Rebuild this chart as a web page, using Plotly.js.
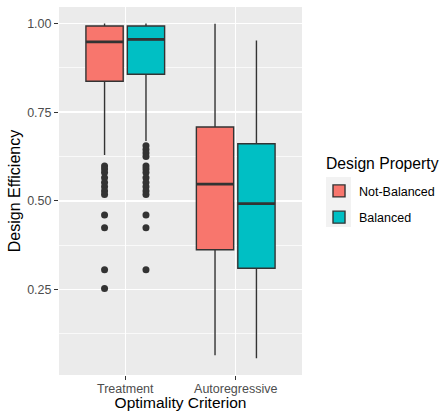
<!DOCTYPE html>
<html>
<head>
<meta charset="utf-8">
<script src="https://cdn.plot.ly/plotly-3.0.1.min.js"></script>
<style>html,body{margin:0;padding:0;background:#fff;}#chart{width:441px;height:411px;}</style>
</head>
<body>
<div id="chart"></div>
<script>
// ---- data ----
const categories = ['Treatment', 'Autoregressive'];
const seriesNames = ['Not-Balanced', 'Balanced'];
const seriesColors = ['#F8766D', '#00BFC4'];
const legendTitle = 'Design Property';

// Not-Balanced stats per category
const nbLower  = [0.629, 0.065];
const nbQ1     = [0.837, 0.362];
const nbMedian = [0.948, 0.547];
const nbQ3     = [0.993, 0.708];
const nbUpper  = [1.000, 0.999];
// Balanced stats per category
const bLower  = [0.669, 0.056];
const bQ1     = [0.857, 0.310];
const bMedian = [0.955, 0.492];
const bQ3     = [0.993, 0.661];
const bUpper  = [1.000, 0.952];

// Outliers (Treatment only)
const nbOutliers = [0.598, 0.590, 0.580, 0.565, 0.552, 0.540, 0.528, 0.518, 0.460, 0.424, 0.306, 0.253];
const bOutliers  = [0.655, 0.645, 0.635, 0.625, 0.598, 0.590, 0.580, 0.565, 0.552, 0.540, 0.528, 0.518, 0.460, 0.424, 0.306];

const yTickVals = [0.25, 0.50, 0.75, 1.00];
const yTickText = ['0.25', '0.50', '0.75', '1.00'];
const yMinorVals = [0.125, 0.375, 0.625, 0.875];

// ---- layout helpers (positions/styles) ----
const catIndex = categories.map((c, i) => i + 1);
const dodge = [-0.1875, 0.1875];
const boxW = 0.3375;
const lineCol = '#333333';

const stats = [
  {lower: nbLower, q1: nbQ1, med: nbMedian, q3: nbQ3, upper: nbUpper, out: nbOutliers},
  {lower: bLower, q1: bQ1, med: bMedian, q3: bQ3, upper: bUpper, out: bOutliers}
];

const traces = [];
stats.forEach((s, k) => {
  const xs = catIndex.map(c => c + dodge[k]);
  traces.push({
    type: 'box',
    name: seriesNames[k],
    legendgroup: 'g' + k,
    x: xs,
    q1: s.q1, median: s.med, q3: s.q3,
    lowerfence: s.lower, upperfence: s.upper,
    width: boxW,
    whiskerwidth: 0,
    fillcolor: seriesColors[k],
    line: {color: lineCol, width: 1.4},
    boxpoints: false,
    hoverinfo: 'skip'
  });
  const mx = [], my = [];
  xs.forEach((x, i) => { mx.push(x - boxW / 2, x + boxW / 2, null); my.push(s.med[i], s.med[i], null); });
  traces.push({
    type: 'scatter', mode: 'lines', x: mx, y: my,
    line: {color: lineCol, width: 2.8}, showlegend: false, hoverinfo: 'skip'
  });
  traces.push({
    type: 'scatter', mode: 'markers',
    x: s.out.map(() => xs[0]), y: s.out,
    marker: {color: lineCol, size: 7},
    showlegend: false, hoverinfo: 'skip'
  });
});

const fontFam = '"Liberation Sans", Arial, Helvetica, sans-serif';
const layout = {
  width: 441, height: 411,
  margin: {l: 59, r: 139, t: 7, b: 36, pad: 0, autoexpand: false},
  paper_bgcolor: '#ffffff',
  plot_bgcolor: '#EBEBEB',
  font: {family: fontFam, color: '#000000'},
  showlegend: true,
  xaxis: {
    range: [0.4, 2.6],
    tickvals: catIndex, ticktext: categories,
    showgrid: true, gridcolor: '#ffffff', gridwidth: 1.4,
    zeroline: false, showline: false, automargin: true,
    ticks: 'outside', ticklen: 4, tickwidth: 1.1, tickcolor: lineCol,
    ticklabelstandoff: -2,
    tickfont: {size: 12.5, color: '#4D4D4D', family: fontFam},
    title: {text: 'Optimality Criterion', font: {size: 15.5, color: '#000', family: fontFam}, standoff: 4}
  },
  yaxis: {
    range: [0.009, 1.0465],
    tickvals: yTickVals, ticktext: yTickText,
    showgrid: true, gridcolor: '#ffffff', gridwidth: 1.4,
    minor: {tickvals: yMinorVals, showgrid: true, gridcolor: '#ffffff', gridwidth: 0.7, ticks: ''},
    zeroline: false, showline: false, automargin: true,
    ticks: 'outside', ticklen: 4, tickwidth: 1.1, tickcolor: lineCol,
    tickfont: {size: 12.5, color: '#4D4D4D', family: fontFam},
    title: {text: 'Design Efficiency', font: {size: 16, color: '#000', family: fontFam}, standoff: 2}
  },
  legend: {
    x: 1.07, xanchor: 'left', y: 0.54, yanchor: 'top',
    font: {size: 12.5, color: '#000', family: fontFam},
    bgcolor: 'rgba(0,0,0,0)',
    tracegroupgap: 7,
    itemwidth: 30
  },
  shapes: [{
    type: 'rect', xref: 'paper', yref: 'paper', layer: 'above',
    x0: 1.0988, x1: 1.2016, y0: 0.402, y1: 0.538,
    fillcolor: '#F2F2F2', line: {width: 0}
  }],
  annotations: [{
    text: legendTitle, xref: 'paper', yref: 'paper',
    x: 1.0905, xanchor: 'left', y: 0.576, yanchor: 'middle',
    showarrow: false, font: {size: 15.7, color: '#000', family: fontFam}
  }]
};

Plotly.newPlot('chart', traces, layout, {displayModeBar: false, staticPlot: true});
</script>
</body>
</html>
